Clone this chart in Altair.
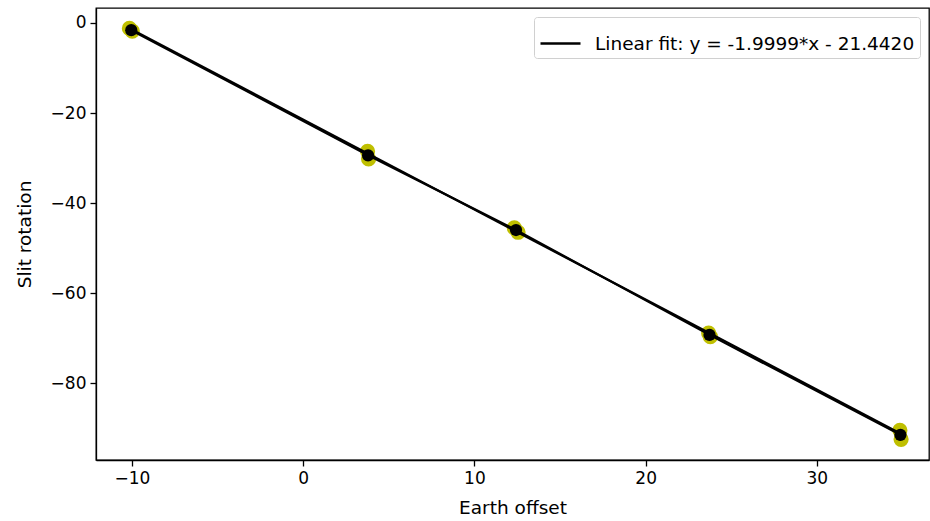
import altair as alt
import pandas as pd

# Individual measurements (yellow)
meas_x = [-10.15, -9.98, 3.76, 3.82, 12.33, 12.55, 23.68, 23.78, 34.85, 34.92]
meas_y = [-1.2, -1.8, -28.5, -30.2, -45.5, -46.5, -68.9, -69.7, -90.5, -92.5]

# Mean points (black)
mean_x = [-10.04, 3.79, 12.43, 23.73, 34.88]
mean_y = [-1.6, -29.4, -46.0, -69.3, -91.5]

# Linear fit endpoints
fit_label = "Linear fit: y = -1.9999*x - 21.4420"
fit_x = [-10.04, 34.88]
fit_y = [-1.36, -91.20]

x_ticks = [-10, 0, 10, 20, 30]
y_ticks = [0, -20, -40, -60, -80]

meas = pd.DataFrame({"x": meas_x, "y": meas_y})
means = pd.DataFrame({"x": mean_x, "y": mean_y})
fit = pd.DataFrame({"x": fit_x, "y": fit_y, "s": [fit_label] * len(fit_x)})

xs = alt.Scale(domain=[-12.1, 36.55], nice=False, zero=False)
ys = alt.Scale(domain=[-97.1, 3.33], nice=False, zero=False)

xax = alt.Axis(values=x_ticks, title="Earth offset", grid=False)
yax = alt.Axis(values=y_ticks, title="Slit rotation", grid=False)

yellow = alt.Chart(meas).mark_circle(color="#bfbf00", opacity=1, size=230).encode(
    x=alt.X("x:Q", scale=xs, axis=xax),
    y=alt.Y("y:Q", scale=ys, axis=yax),
)

data_line = alt.Chart(means).mark_line(color="black", strokeWidth=2.2).encode(
    x=alt.X("x:Q", scale=xs),
    y=alt.Y("y:Q", scale=ys),
)

fit_line = alt.Chart(fit).mark_line(strokeWidth=2.2).encode(
    x=alt.X("x:Q", scale=xs),
    y=alt.Y("y:Q", scale=ys),
    color=alt.Color(
        "s:N",
        scale=alt.Scale(domain=[fit_label], range=["black"]),
        legend=alt.Legend(
            title=None,
            orient="top-right",
            offset=9,
            padding=5,
            strokeColor="#d0d0d0",
            fillColor="white",
            cornerRadius=3,
            symbolType="stroke",
            symbolSize=1600,
            symbolStrokeWidth=2.5,
            labelFontSize=18.5,
            labelFont="DejaVu Sans",
            labelColor="black",
            labelOffset=13,
            labelLimit=800,
        ),
    ),
)

black = alt.Chart(means).mark_circle(color="black", opacity=1, size=150).encode(
    x=alt.X("x:Q", scale=xs),
    y=alt.Y("y:Q", scale=ys),
)

chart = (
    alt.layer(yellow, data_line, fit_line, black)
    .properties(
        width=833,
        height=452,
        autosize=alt.AutoSizeParams(type="none"),
        padding={"left": 96, "top": 8, "right": 1, "bottom": 61},
    )
    .configure_view(stroke="black", strokeWidth=1.3)
    .configure_axis(
        labelFont="DejaVu Sans",
        titleFont="DejaVu Sans",
        labelFontSize=17,
        titleFontSize=18.5,
        titleFontWeight="normal",
        labelColor="black",
        titleColor="black",
        domainColor="black",
        tickColor="black",
        domainWidth=1.3,
        tickWidth=1.3,
        tickSize=6,
        labelPadding=4,
    )
    .configure_axisX(titlePadding=12)
    .configure_axisY(titlePadding=16)
)

chart.save("out.html", embed_options={"renderer": "svg", "actions": False})
